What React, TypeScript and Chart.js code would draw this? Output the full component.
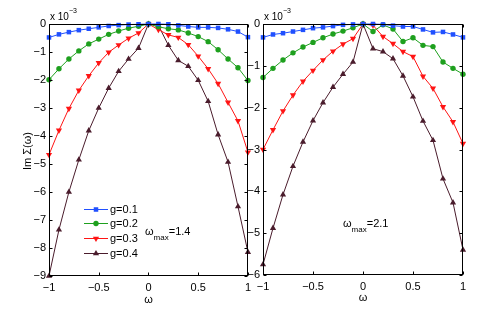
import React, { useEffect, useRef } from 'react';
import { Chart, registerables } from 'chart.js';

Chart.register(...registerables);

// ---------- data (values in units of 1e-3) ----------
const omega = [-1, -0.9, -0.8, -0.7, -0.6, -0.5, -0.4, -0.3, -0.2, -0.1, 0, 0.1, 0.2, 0.3, 0.4, 0.5, 0.6, 0.7, 0.8, 0.9, 1];
const seriesLabels = ['g=0.1', 'g=0.2', 'g=0.3', 'g=0.4'];
const xTickValues = [-1, -0.5, 0, 0.5, 1];
const leftYTickValues = [0, -1, -2, -3, -4, -5, -6, -7, -8, -9];
const rightYTickValues = [0, -1, -2, -3, -4, -5, -6];

// left panel, omega_max = 1.4
const leftG1 = [-0.48, -0.37, -0.29, -0.22, -0.17, -0.12, -0.07, -0.04, -0.02, -0.01, 0, 0, -0.01, -0.05, -0.09, -0.12, -0.12, -0.14, -0.19, -0.27, -0.47];
const leftG2 = [-1.99, -1.6, -1.25, -0.96, -0.71, -0.54, -0.37, -0.25, -0.15, -0.08, 0, -0.1, -0.17, -0.21, -0.32, -0.45, -0.63, -0.92, -1.25, -1.56, -2.02];
const leftG3 = [-4.67, -3.8, -3.02, -2.37, -1.85, -1.39, -1.01, -0.75, -0.51, -0.32, 0, -0.2, -0.39, -0.48, -0.74, -1.15, -1.6, -2.13, -2.8, -3.46, -4.58];
const leftG4 = [-9.0, -7.35, -6.0, -4.85, -3.81, -3.0, -2.29, -1.69, -1.25, -0.86, 0, -0.05, -0.76, -1.3, -1.51, -2.01, -2.76, -3.95, -4.93, -6.52, -8.15];

// right panel, omega_max = 2.1
const rightG1 = [-0.32, -0.25, -0.22, -0.18, -0.14, -0.1, -0.08, -0.05, -0.02, -0.01, 0, 0, -0.01, -0.04, -0.06, -0.06, -0.13, -0.2, -0.19, -0.25, -0.32];
const rightG2 = [-1.28, -1.06, -0.86, -0.69, -0.55, -0.44, -0.33, -0.24, -0.17, -0.09, 0, -0.18, -0.02, -0.12, -0.42, -0.33, -0.51, -0.54, -0.91, -1.06, -1.2];
const rightG3 = [-3.0, -2.53, -2.08, -1.7, -1.37, -1.11, -0.86, -0.65, -0.48, -0.35, 0, -0.03, -0.3, -0.47, -0.66, -0.78, -1.25, -1.54, -1.98, -2.34, -2.86];
const rightG4 = [-5.75, -4.88, -4.08, -3.4, -2.82, -2.31, -1.88, -1.51, -1.2, -0.91, 0, -0.59, -0.66, -0.83, -1.24, -1.74, -2.32, -2.78, -3.7, -4.27, -5.4];

const leftOmegaMax = '1.4';
const rightOmegaMax = '2.1';

// ---------- styles ----------
const colors = ['#2050ff', '#1ea01e', '#ff1414', '#4a1c2c'];
const pointStyles = ['rect', 'circle', 'triangle', 'triangle'];
const pointRotations = [0, 0, 180, 0];
const pointRadii = [3.2, 2.7, 3.6, 3.6];
const FONT = '"Liberation Sans", Arial, Helvetica, sans-serif';

function drawMarker(ctx: CanvasRenderingContext2D, i: number, x: number, y: number) {
  const r = pointRadii[i];
  ctx.fillStyle = colors[i];
  ctx.beginPath();
  if (pointStyles[i] === 'rect') {
    const s = r * Math.SQRT1_2;
    ctx.rect(x - s, y - s, 2 * s, 2 * s);
  } else if (pointStyles[i] === 'circle') {
    ctx.arc(x, y, r, 0, Math.PI * 2);
  } else {
    const dir = pointRotations[i] === 180 ? -1 : 1;
    for (let k = 0; k < 3; k++) {
      const ang = -Math.PI / 2 + (k * 2 * Math.PI) / 3;
      const px = x + r * Math.cos(ang);
      const py = y + dir * r * Math.sin(ang);
      if (k === 0) ctx.moveTo(px, py);
      else ctx.lineTo(px, py);
    }
    ctx.closePath();
  }
  ctx.fill();
}

const matlabPlugin = {
  id: 'matlabBox',
  afterDatasetsDraw(chart: any, _args: any, opts: any) {
    const { ctx, chartArea: a, scales } = chart;
    const xs = scales.x;
    const ys = scales.y;
    ctx.save();
    ctx.strokeStyle = '#000';
    ctx.lineWidth = 1;
    const L = Math.round(a.left) + 0.5;
    const R = Math.round(a.right) - 0.5;
    const T = Math.round(a.top) + 0.5;
    const B = Math.round(a.bottom) - 0.5;
    ctx.strokeRect(L, T, R - L, B - T);
    const tl = 3;
    ctx.beginPath();
    xs.ticks.forEach((t: any) => {
      const px = Math.round(xs.getPixelForValue(t.value)) + 0.5;
      ctx.moveTo(px, B); ctx.lineTo(px, B - tl);
      ctx.moveTo(px, T); ctx.lineTo(px, T + tl);
    });
    ys.ticks.forEach((t: any) => {
      const py = Math.round(ys.getPixelForValue(t.value)) + 0.5;
      ctx.moveTo(L, py); ctx.lineTo(L + tl, py);
      ctx.moveTo(R, py); ctx.lineTo(R - tl, py);
    });
    ctx.stroke();

    ctx.fillStyle = '#000';
    // multiplier
    ctx.textBaseline = 'alphabetic';
    ctx.textAlign = 'left';
    ctx.font = `10px ${FONT}`;
    ctx.fillText('x 10', a.left + 1, a.top - 4);
    const w = ctx.measureText('x 10').width;
    ctx.font = `7px ${FONT}`;
    ctx.fillText('\u22123', a.left + 1 + w, a.top - 11);

    // x title
    ctx.font = `11px ${FONT}`;
    ctx.textAlign = 'center';
    ctx.textBaseline = 'middle';
    ctx.fillText('\u03c9', (a.left + a.right) / 2, opts.xTitleY);

    // y title
    if (opts.yTitle) {
      ctx.save();
      ctx.translate(opts.yTitle.x, opts.yTitle.y);
      ctx.rotate(-Math.PI / 2);
      ctx.font = `11px ${FONT}`;
      ctx.textAlign = 'center';
      ctx.textBaseline = 'middle';
      ctx.fillText('Im \u03a3(\u03c9)', 0, 0);
      ctx.restore();
    }

    // legend
    if (opts.legend) {
      const lg = opts.legend;
      chart.data.datasets.forEach((ds: any, i: number) => {
        const y = lg.rows[i];
        ctx.strokeStyle = ds.borderColor;
        ctx.lineWidth = 1;
        ctx.beginPath();
        ctx.moveTo(lg.x1, y + 0.5);
        ctx.lineTo(lg.x2, y + 0.5);
        ctx.stroke();
        drawMarker(ctx, i, (lg.x1 + lg.x2) / 2, y + 0.5);
        ctx.fillStyle = '#000';
        ctx.font = `11px ${FONT}`;
        ctx.textAlign = 'left';
        ctx.textBaseline = 'middle';
        ctx.fillText(ds.label, lg.textX, y + 1);
      });
    }

    // omega_max note
    if (opts.note) {
      const n = opts.note;
      ctx.fillStyle = '#000';
      ctx.textAlign = 'left';
      ctx.textBaseline = 'alphabetic';
      ctx.font = `11px ${FONT}`;
      ctx.fillText('\u03c9', n.x, n.y);
      let x = n.x + ctx.measureText('\u03c9').width;
      ctx.font = `8px ${FONT}`;
      ctx.fillText('max', x, n.y + 5);
      x += ctx.measureText('max').width;
      ctx.font = `11px ${FONT}`;
      ctx.fillText('=' + n.text, x, n.y);
    }
    ctx.restore();
  },
};

function makeConfig(series: number[][], yTicks: number[], yWidth: number, padRight: number, xHeight: number, pluginOpts: any) {
  const datasets = series.map((vals, i) => ({
    label: seriesLabels[i],
    data: omega.map((x, k) => ({ x, y: vals[k] })),
    borderColor: colors[i],
    backgroundColor: colors[i],
    borderWidth: 1,
    pointStyle: pointStyles[i],
    pointRotation: pointRotations[i],
    pointRadius: pointRadii[i],
    pointBorderWidth: 0,
    pointBackgroundColor: colors[i],
    tension: 0,
    clip: false as any,
  }));
  const yMin = Math.min(...yTicks);
  const yMax = Math.max(...yTicks);
  return {
    type: 'line' as const,
    data: { datasets },
    options: {
      animation: false as const,
      responsive: false,
      maintainAspectRatio: false,
      devicePixelRatio: 1,
      layout: { padding: { top: 24, right: padRight, left: 0, bottom: 0 } },
      plugins: {
        legend: { display: false },
        tooltip: { enabled: false },
        matlabBox: pluginOpts,
      },
      scales: {
        x: {
          type: 'linear' as const,
          min: -1,
          max: 1,
          afterBuildTicks: (s: any) => { s.ticks = xTickValues.map((v) => ({ value: v })); },
          afterFit: (s: any) => { s.height = xHeight; },
          grid: { display: false, drawTicks: false },
          border: { display: false },
          ticks: {
            padding: 5,
            color: '#000',
            font: { family: FONT, size: 11 },
            maxRotation: 0,
            autoSkip: false,
            callback: (v: any) => String(v).replace('-', '\u2212'),
          },
        },
        y: {
          type: 'linear' as const,
          min: yMin,
          max: yMax,
          afterBuildTicks: (s: any) => { s.ticks = yTicks.map((v) => ({ value: v })); },
          afterFit: (s: any) => { s.width = yWidth; },
          grid: { display: false, drawTicks: false },
          border: { display: false },
          ticks: {
            padding: 3,
            color: '#000',
            autoSkip: false,
            font: { family: FONT, size: 11 },
            callback: (v: any) => String(v).replace('-', '\u2212'),
          },
        },
      },
    },
    plugins: [matlabPlugin],
  };
}

function Panel(props: { left: number; width: number; config: any }) {
  const ref = useRef<HTMLCanvasElement>(null);
  useEffect(() => {
    if (!ref.current) return;
    const chart = new Chart(ref.current, props.config);
    return () => chart.destroy();
  }, []);
  return (
    <canvas
      ref={ref}
      width={props.width}
      height={327}
      style={{ position: 'absolute', left: props.left, top: 0, width: props.width, height: 327 }}
    />
  );
}

export default function App() {
  const leftCfg = makeConfig([leftG1, leftG2, leftG3, leftG4], leftYTickValues, 49, 7, 51, {
    xTitleY: 300,
    yTitle: { x: 28, y: 151 },
    legend: { x1: 84, x2: 108, textX: 110, rows: [209, 223, 238, 253] },
    note: { x: 145, y: 235, text: leftOmegaMax },
  });
  const rightCfg = makeConfig([rightG1, rightG2, rightG3, rightG4], rightYTickValues, 23, 28, 52, {
    xTitleY: 298,
    note: { x: 343 - 240, y: 227, text: rightOmegaMax },
  });
  return (
    <div style={{ position: 'fixed', left: 0, top: 0, width: 491, height: 327, background: '#fff', overflow: 'hidden' }}>
      <Panel left={0} width={256} config={leftCfg} />
      <Panel left={240} width={251} config={rightCfg} />
    </div>
  );
}
